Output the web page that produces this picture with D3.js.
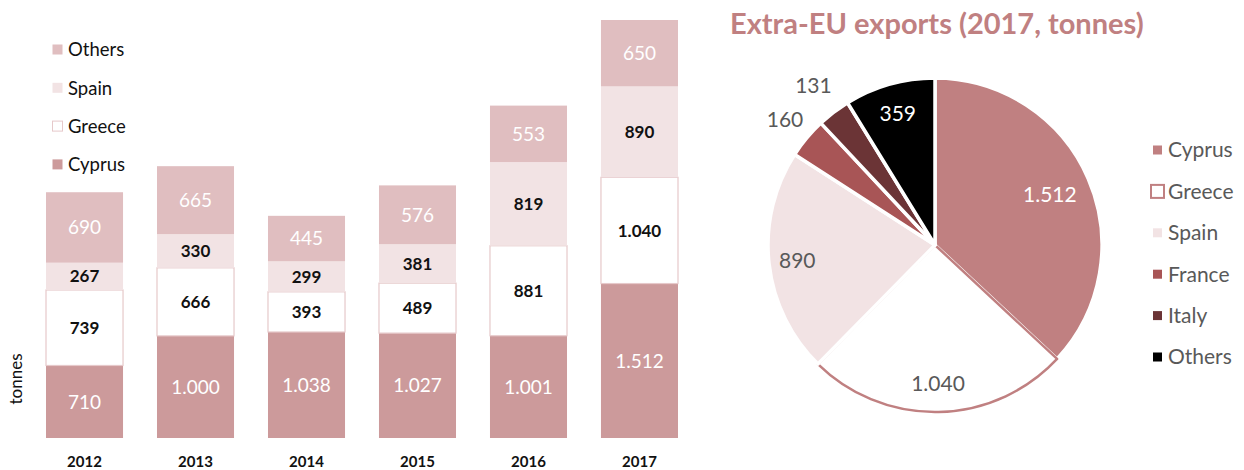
<!DOCTYPE html>
<html><head><meta charset="utf-8">
<script src="https://cdn.jsdelivr.net/npm/d3@7"></script>
<style>body{margin:0;background:#fff}svg{display:block}text{font-family:Lato,"Open Sans",sans-serif}</style>
</head><body><svg id="c" width="1244" height="470"></svg>
<script>
const years = ["2012","2013","2014","2015","2016","2017"];
const barSeries = ["Cyprus","Greece","Spain","Others"];
const cyprus = [710,1000,1038,1027,1001,1512];
const greece = [739,666,393,489,881,1040];
const spain = [267,330,299,381,819,890];
const others = [690,665,445,576,553,650];
const pieCountries = ["Cyprus","Greece","Spain","France","Italy","Others"];
const pieValues = [1512,1040,890,160,131,359];
const pieTitle = "Extra-EU exports (2017, tonnes)";
const yLabel = "tonnes";

const svg = d3.select("#c");
const loc = d3.formatLocale({decimal:",",thousands:".",grouping:[3],currency:["","€"]});
const fmt = loc.format(",d");

// ---------- bar chart ----------
const barColors = {Cyprus:"#CC9A9B",Greece:"#FFFFFF",Spain:"#F2E3E4",Others:"#E0BEC0"};
const textColors = {Cyprus:"#FFFFFF",Greece:"#111",Spain:"#111",Others:"#FFFFFF"};
const seriesData = {Cyprus:cyprus,Greece:greece,Spain:spain,Others:others};
const rows = years.map((y,i)=>{const o={year:y};barSeries.forEach(s=>o[s]=seriesData[s][i]);return o;});
const stack = d3.stack().keys(barSeries)(rows);
const maxTot = d3.max(rows,r=>barSeries.reduce((a,s)=>a+r[s],0));
const x = d3.scaleBand().domain(years).range([34.9,689.1]).paddingInner(0.306).paddingOuter(0.1);
const y = d3.scaleLinear().domain([0,maxTot]).range([438,20]);

const g = svg.append("g");
stack.forEach(layer=>{
  const key = layer.key;
  const white = key==="Cyprus"||key==="Others";
  const lg = g.append("g");
  lg.selectAll("rect").data(layer).join("rect")
    .attr("x",d=>x(d.data.year)).attr("width",x.bandwidth())
    .attr("y",d=>y(d[1])).attr("height",d=>y(d[0])-y(d[1]))
    .attr("fill",barColors[key])
    .attr("stroke",key==="Greece"?"#E6C9CA":"none").attr("stroke-width",1.2);
  lg.selectAll("text").data(layer).join("text")
    .attr("x",d=>x(d.data.year)+x.bandwidth()/2)
    .attr("y",d=>(y(d[0])+y(d[1]))/2)
    .attr("dy","0.36em").attr("text-anchor","middle")
    .attr("font-size",white?19:17)
    .attr("font-weight",white?"normal":"bold")
    .attr("fill",textColors[key])
    .text(d=>fmt(d.data[key]));
});
g.append("g").selectAll("text").data(years).join("text")
  .attr("x",d=>x(d)+x.bandwidth()/2).attr("y",467)
  .attr("text-anchor","middle").attr("font-size",15).attr("font-weight","bold").attr("fill","#111")
  .text(d=>d);
svg.append("text").attr("transform","translate(22,379) rotate(-90)")
  .attr("text-anchor","middle").attr("font-size",17).attr("fill","#111").text(yLabel);

const legOrder = ["Others","Spain","Greece","Cyprus"];
const lleg = svg.append("g").selectAll("g").data(legOrder).join("g")
  .attr("transform",(d,i)=>`translate(52,${50+i*38.3})`);
lleg.append("rect").attr("x",0.5).attr("y",-5.5).attr("width",10).attr("height",10)
  .attr("fill",d=>barColors[d]).attr("stroke",d=>d==="Greece"?"#E6C9CA":"none");
lleg.append("text").attr("x",16).attr("dy","0.35em").attr("font-size",18.5).attr("fill","#111").text(d=>d);

// ---------- pie ----------
const pieColors = ["#C08081","#FFFFFF","#F2E3E4","#A85556","#6B3436","#000000"];
const labelRadius = [0.75,0.83,0.83,1.17,1.2,0.82];
const cx = 935, cy = 245, R = 167;
const pie = d3.pie().sort(null).value(d=>d.v)(pieCountries.map((c,i)=>({c,v:pieValues[i],i})));
const arc = d3.arc().innerRadius(0).outerRadius(R);
const pg = svg.append("g").attr("transform",`translate(${cx},${cy})`);
pg.selectAll("path").data(pie).join("path")
  .attr("d",arc)
  .attr("fill",d=>pieColors[d.data.i])
  .attr("stroke",d=>d.data.c==="Greece"?"#C08081":"#fff")
  .attr("stroke-width",d=>d.data.c==="Greece"?2.5:3.5)
  .attr("stroke-linejoin","round");
pg.selectAll("text").data(pie).join("text")
  .attr("transform",d=>{
    const r = R*labelRadius[d.data.i];
    const c = d3.arc().innerRadius(r).outerRadius(r).centroid(d);
    return `translate(${c[0]},${c[1]})`;})
  .attr("dy","0.35em").attr("text-anchor","middle").attr("font-size",21)
  .attr("fill",d=>(d.data.c==="Cyprus"||d.data.c==="Others")?"#fff":"#595959")
  .text(d=>fmt(d.data.v));

svg.append("text").attr("x",730).attr("y",34).attr("font-size",29).attr("font-weight","bold")
  .attr("fill","#C08081").text(pieTitle);
const pleg = svg.append("g").selectAll("g").data(pieCountries).join("g")
  .attr("transform",(d,i)=>`translate(1152,${150+i*41.4})`);
pleg.append("rect").attr("x",1).attr("y",-4.5).attr("width",d=>d==="Greece"?13:9).attr("height",d=>d==="Greece"?13:9)
  .attr("transform",d=>d==="Greece"?"translate(-2,-2)":null)
  .attr("fill",(d,i)=>pieColors[i]).attr("stroke",d=>d==="Greece"?"#C08081":"none").attr("stroke-width",2);
pleg.append("text").attr("x",16).attr("dy","0.35em").attr("font-size",21).attr("fill","#595959").text(d=>d);
</script>
</body></html>
